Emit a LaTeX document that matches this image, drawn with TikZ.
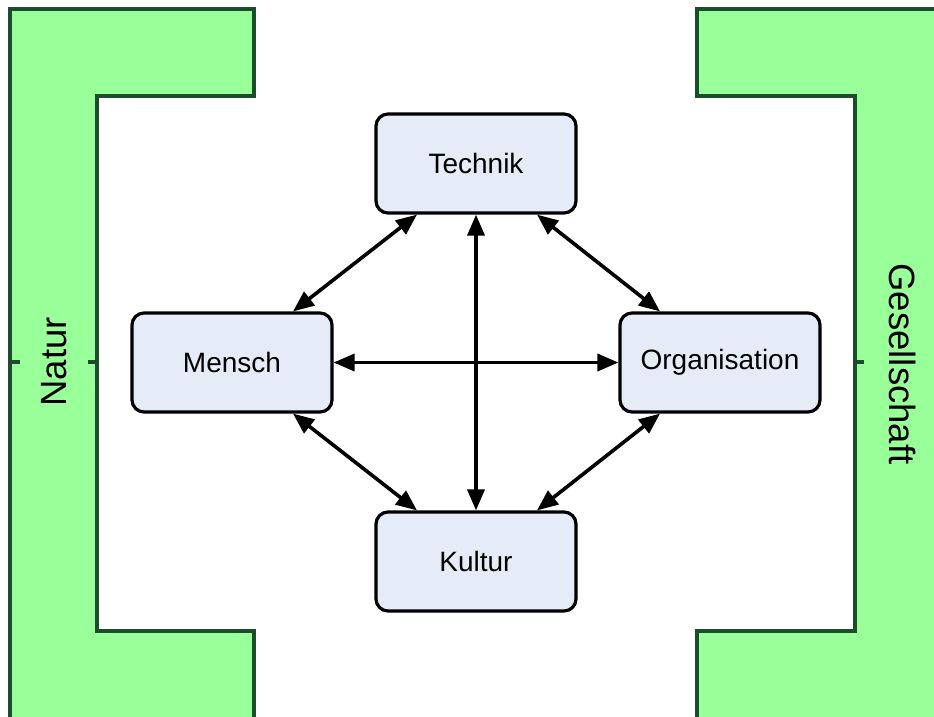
\documentclass[tikz,border=0pt]{standalone}
\usepackage{fontspec}
\setmainfont{Liberation Sans}
\usetikzlibrary{arrows.meta,calc}
\definecolor{bracketfill}{HTML}{99FF99}
\definecolor{bracketline}{HTML}{1B4D2C}
\definecolor{boxfill}{HTML}{E6ECF7}
\tikzset{
  bracket/.style={fill=bracketfill,draw=bracketline,line width=3.6pt,line join=miter},
  tick/.style={draw=bracketline,line width=3.6pt},
  topic/.style={draw=black,fill=boxfill,line width=3.2pt,rounded corners=12pt,
    minimum width=200pt,minimum height=99pt,inner sep=0pt,
    font=\fontsize{28}{30}\selectfont},
  side/.style={font=\fontsize{36.5}{40}\selectfont,inner sep=0pt},
  link/.style={line width=3.6pt,{Triangle[length=21pt,width=17pt]}-{Triangle[length=21pt,width=17pt]}}
}
\begin{document}
\begin{tikzpicture}[x=1pt,y=-1pt]
\useasboundingbox (0,0) rectangle (934,716);
\begin{scope}
\clip (0,0) rectangle (934,716);
% left bracket
\path[bracket] (10,730) -- (10,9) -- (254,9) -- (254,96) -- (97,96) -- (97,631)
  -- (254,631) -- (254,730) -- cycle;
% right bracket
\path[bracket] (950,9) -- (697,9) -- (697,96) -- (855,96) -- (855,631)
  -- (697,631) -- (697,730) -- (950,730) -- cycle;
\end{scope}
% ticks at mid height
\draw[tick] (10,362) -- (20,362);
\draw[tick] (88,362) -- (97,362);
\draw[tick] (855,362) -- (864,362);
% side labels
\node[side,rotate=90] (natur) at (54,362) {Natur};
\node[side,rotate=-90] (gesellschaft) at (903,364) {Gesellschaft};
% topic boxes
\node[topic] (T) at (476,163.5) {Technik};
\node[topic] (M) at (232,362.5) {Mensch};
\node[topic] (O) at (720,362.5) {Organisation};
\node[topic] (K) at (476,561.5) {Kultur};
% connections
\draw[link] ([xshift=-59pt]T.south) -- ([xshift=61pt]M.north);
\draw[link] ([xshift=61pt]T.south) -- ([xshift=-60pt]O.north);
\draw[link] ([xshift=61pt]M.south) -- ([xshift=-59pt]K.north);
\draw[link] ([xshift=-60pt]O.south) -- ([xshift=61pt]K.north);
\draw[link] (T.south) -- (K.north);
\draw[link] (M.east) -- (O.west);
\end{tikzpicture}
\end{document}
